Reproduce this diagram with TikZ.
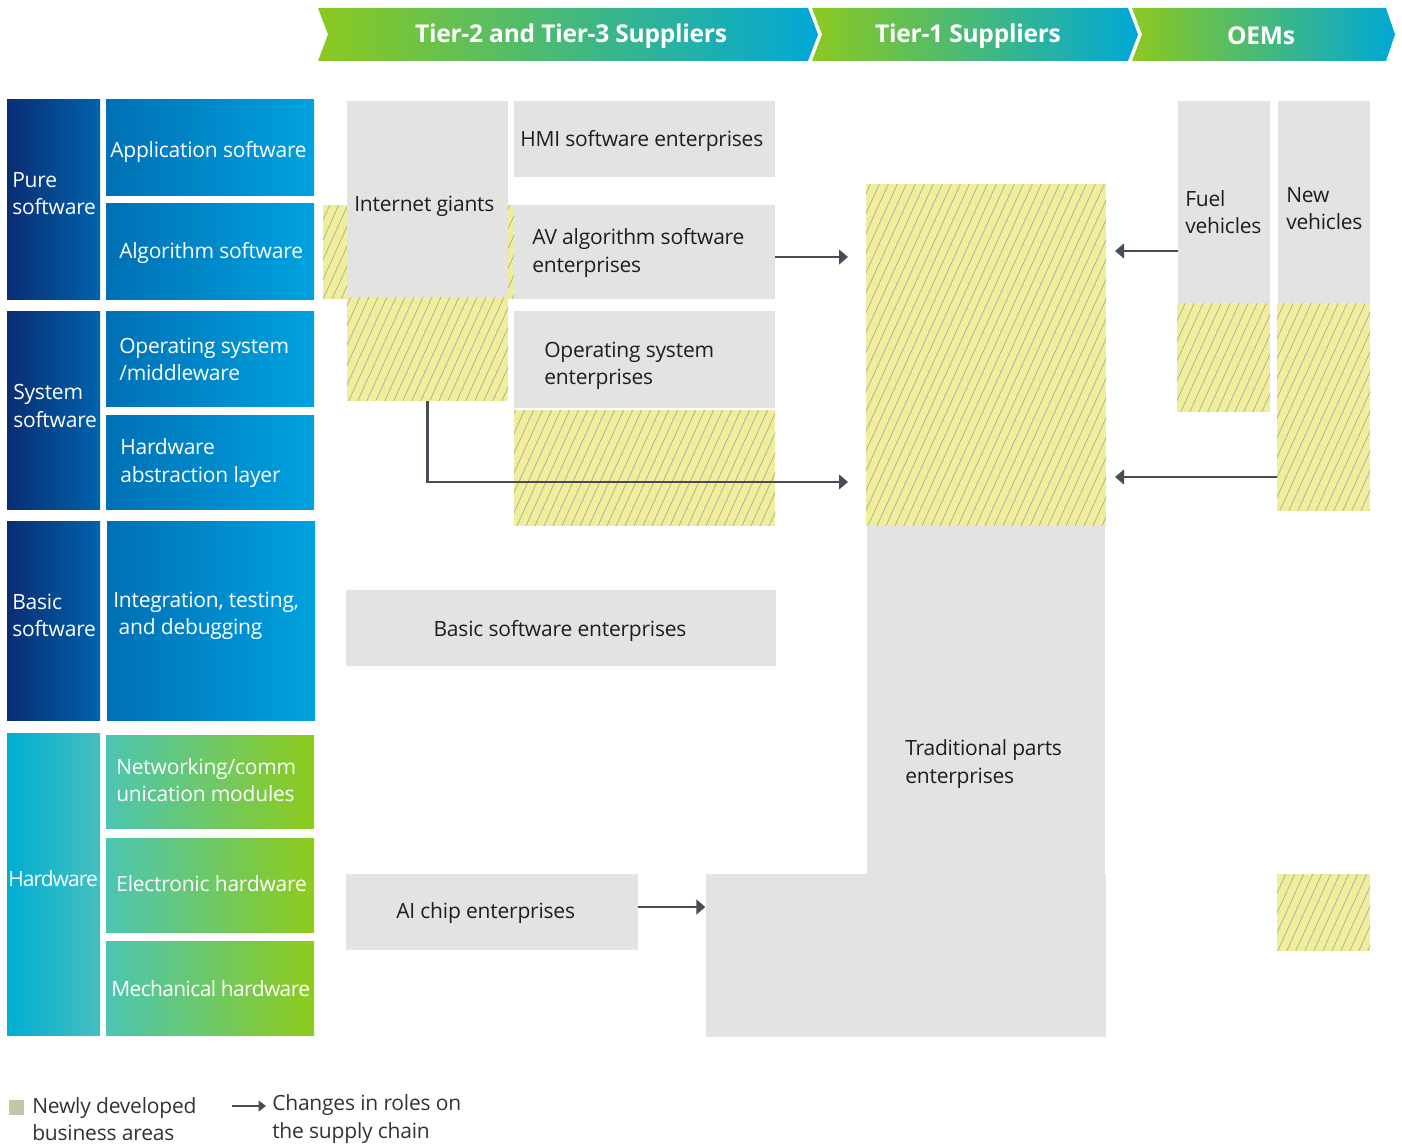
\documentclass[tikz,border=0pt]{standalone}
\usepackage{fontspec}
\setmainfont{Open Sans}[LetterSpace=-1]
\usetikzlibrary{arrows.meta,calc}
\definecolor{hgreen}{HTML}{8BC920}
\definecolor{hmid}{HTML}{6DCF9E}
\definecolor{hblue}{HTML}{00A8D6}
\definecolor{navyL}{HTML}{0A2D73}
\definecolor{navyR}{HTML}{0063AB}
\definecolor{blueL}{HTML}{0070B5}
\definecolor{blueR}{HTML}{00A2DF}
\definecolor{hwcL}{HTML}{00ADD3}
\definecolor{hwcR}{HTML}{46BFBF}
\definecolor{hwL}{HTML}{4CC5B2}
\definecolor{hwM}{HTML}{6FCE94}
\definecolor{hwR}{HTML}{8ECB1B}
\definecolor{greybox}{HTML}{E3E3E1}
\definecolor{hatchY}{HTML}{F0EE99}
\definecolor{hatchL}{HTML}{ABABAB}
\definecolor{arrowc}{HTML}{4A4B55}
\definecolor{darktext}{HTML}{1E1E1E}
\definecolor{legsq}{HTML}{C6C5AC}
\newcommand\bodyfont{\fontsize{15.75}{20.4}\selectfont}
\newcommand\tightfont[1]{\addfontfeatures{LetterSpace=#1}}
\newcommand\pbox[6]{%
  \node[#2, anchor=north west, inner sep=0pt, outer sep=0pt,
        minimum width={(#5-#3)*0.75pt}, minimum height={(#6-#4)*0.75pt}] (#1) at (#3,#4) {};}
\newcommand\hatchbox[5]{%
  \node[fill=hatchY, anchor=north west, inner sep=0pt, outer sep=0pt,
        minimum width={(#4-#2)*0.75pt}, minimum height={(#5-#3)*0.75pt}] (#1) at (#2,#3) {};
  \begin{scope}
    \clip (#2,#3) rectangle (#4,#5);
    \pgfmathsetmacro\hs{9*floor((#2+#3/2.2)/9)}
    \pgfmathsetmacro\hn{\hs+9}
    \pgfmathsetmacro\he{#4+#5/2.2+9}
    \foreach \c in {\hs,\hn,...,\he}
      \draw[hatchline] (\c-#5/2.2,#5) -- (\c-#3/2.2,#3);
  \end{scope}}
\begin{document}
\begin{tikzpicture}[x=0.75pt,y=-0.75pt,
  hatchline/.style={draw=hatchL, line width=0.55pt},
  navybox/.style={shade, left color=navyL, right color=navyR},
  bluebox/.style={shade, left color=blueL, right color=blueR},
  hwcatbox/.style={shade, left color=hwcL, right color=hwcR},
  hwbox/.style={shade, left color=hwL, middle color=hwM, right color=hwR},
  greyfill/.style={fill=greybox},
  head/.style={shade, left color=hgreen, middle color=hmid, right color=hblue},
  headtext/.style={text=white, font=\fontsize{18.4}{22}\selectfont\bfseries, inner sep=0pt, yshift=-1.5pt},
  wtext/.style={text=white, font=\bodyfont, align=left, anchor=west, inner sep=0pt, yshift=-2.25pt},
  dtext/.style={text=darktext, font=\bodyfont, align=left, anchor=west, inner sep=0pt, yshift=-2.25pt},
  arr/.style={draw=arrowc, line width=2.2pt, -{Triangle[length=6.75pt,width=11pt]}},
  legarr/.style={draw=arrowc, line width=1.5pt, -{Triangle[length=5.5pt,width=8pt]}}
]
\useasboundingbox (0,0) rectangle (1402,1148);

% header chevrons
\path[head] (318,8) -- (808,8) -- (818,34.5) -- (808,61) -- (318,61) -- (328,34.5) -- cycle;
\path[head] (812,8) -- (1128,8) -- (1138,34.5) -- (1128,61) -- (812,61) -- (822,34.5) -- cycle;
\path[head] (1132,8) -- (1386,8) -- (1395,34.5) -- (1386,61) -- (1132,61) -- (1142,34.5) -- cycle;
\node[headtext] (h1) at (571,34) {Tier-2 and Tier-3 Suppliers};
\node[headtext] (h2) at (968,34) {Tier-1 Suppliers};
\node[headtext] (h3) at (1261,34) {OEMs};

% left column categories
\pbox{cpure}{navybox}{7}{100}{100}{299}
\pbox{csys}{navybox}{7}{311}{100}{509}
\pbox{cbasic}{navybox}{7}{521}{100}{720}
\pbox{chw}{hwcatbox}{7}{733}{100}{1035}
\pbox{sapp}{bluebox}{106}{100}{314}{196}
\pbox{salg}{bluebox}{106}{204}{314}{299}
\pbox{sos}{bluebox}{106}{311}{314}{406}
\pbox{shal}{bluebox}{106}{415}{314}{509}
\pbox{sint}{bluebox}{107}{521}{315}{720}
\pbox{snet}{hwbox}{106}{735}{314}{828}
\pbox{sel}{hwbox}{106}{838}{314}{932}
\pbox{smech}{hwbox}{106}{941}{314}{1035}

\node[wtext] (tpure) at (12,191) {Pure\\software};
\node[wtext] (tsys) at (13,403) {System\\software};
\node[wtext] (tbasic) at (12,612) {Basic\\software};
\node[wtext] (thw) at (8,876) {\tightfont{-4.5}Hardware};
\node[wtext] (tapp) at (110,149) {Application software};
\node[wtext] (talg) at (119,250) {Algorithm software};
\node[wtext] (tos) at (119,356) {Operating system\\/middleware};
\node[wtext] (thal) at (120,460) {Hardware\\abstraction layer};
\node[wtext] (tint) at (113,613) {Integration, testing,\\\hspace*{4pt}and debugging};
\node[wtext] (tnet) at (116,777) {Networking/comm\\unication modules};
\node[wtext] (tel) at (116,881) {Electronic hardware};
\node[wtext] (tmech) at (111,986) {\tightfont{-3}Mechanical hardware};

% tier-2/3 column
\hatchbox{strip}{323}{205}{515}{299}
\pbox{ig}{greyfill}{347}{101}{508}{297}
\hatchbox{igh}{347}{297}{508}{401}
\pbox{hmi}{greyfill}{514}{101}{775}{177}
\pbox{av}{greyfill}{514}{205}{775}{299}
\pbox{ose}{greyfill}{514}{311}{775}{408}
\hatchbox{oseh}{514}{410}{775}{526}
\pbox{bse}{greyfill}{346}{590}{776}{666}
\pbox{aic}{greyfill}{346}{874}{638}{950}

\node[dtext] (tig) at (354,203) {Internet giants};
\node[dtext] (thmi) at (520,138) {HMI software enterprises};
\node[dtext] (tav) at (532,250) {AV algorithm software\\enterprises};
\node[dtext] (tose) at (544,363) {Operating system\\enterprises};
\node[dtext, anchor=center] (tbse) at (560,628) {Basic software enterprises};
\node[dtext] (taic) at (396,910) {AI chip enterprises};

% tier-1 column
\hatchbox{th}{866}{184}{1106}{526}
\pbox{tp}{greyfill}{867}{526}{1105}{1037}
\pbox{tplow}{greyfill}{706}{874}{1106}{1037}
\node[dtext] (ttp) at (905,761) {Traditional parts\\enterprises};

% OEM column
\pbox{fv}{greyfill}{1178}{101}{1270}{303}
\hatchbox{fvh}{1177}{303}{1270}{412}
\pbox{nv}{greyfill}{1278}{101}{1370}{303}
\hatchbox{nvh}{1277}{303}{1370}{511}
\hatchbox{nvh2}{1277}{874}{1370}{951}
\node[dtext] (tfv) at (1185,209) {Fuel\\vehicles};
\node[dtext] (tnv) at (1286,206) {New\\vehicles};

% connectors
\draw[arr, shorten >=13.5pt] (av.east) ++(0,5) coordinate (avout) -- (avout -| th.west);
\draw[arr, shorten >=13.5pt] (igh.south) -- (igh.south |- 0,482) -- (th.west |- 0,482);
\draw[arr, shorten >=6.75pt] (fv.west |- 0,251) -- (th.east |- 0,251);
\draw[arr, shorten >=6.75pt] (nvh.west |- 0,477) -- (th.east |- 0,477);
\draw[arr, shorten >=0.5pt] (aic.east |- 0,907) -- (tplow.west |- 0,907);

% legend
\node[fill=legsq, anchor=north west, inner sep=0pt, minimum width=11.25pt, minimum height=11.25pt] (lsq) at (9,1100) {};
\node[dtext, text=black!80] (l1) at (32,1116) {Newly developed\\business areas};
\node[dtext, text=black!80] (l2) at (272,1116) {Changes in roles on\\the supply chain};
\coordinate (lgs) at (232,1106);
\draw[legarr, shorten >=4.5pt] (lgs) -- (lgs -| l2.west);
\end{tikzpicture}
\end{document}
